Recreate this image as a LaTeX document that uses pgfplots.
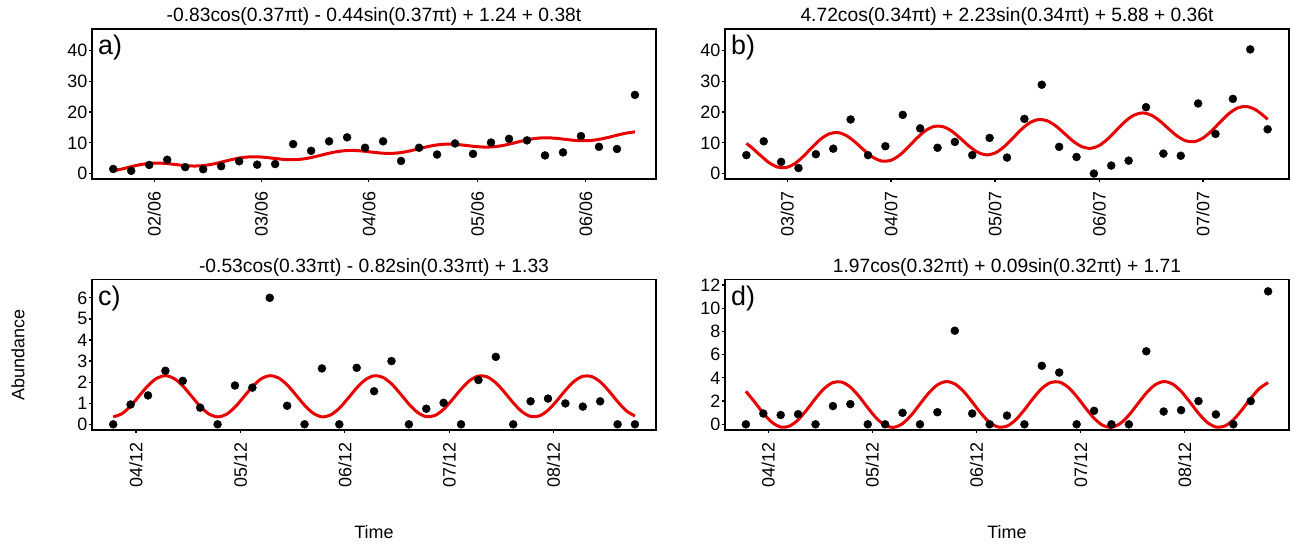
\documentclass[border=0pt]{standalone}
\usepackage{pgfplots}
\pgfplotsset{compat=1.18}
\usepackage{fontspec}
\setmainfont{Liberation Sans}
\definecolor{fitred}{RGB}{232,0,0}
\tikzset{plab/.style={anchor=north west, inner sep=0pt, xshift=6bp, yshift=-6bp, font=\fontsize{27}{29}\selectfont}}
\begin{document}
\begin{tikzpicture}
\useasboundingbox (0,0) rectangle (1296bp,544bp);
\pgfplotsset{
  panel/.style={
    scale only axis, width=564bp, height=150.5bp, anchor=south west,
    axis line style={line width=1.6bp},
    tick align=outside, xtick pos=bottom, ytick pos=left,
    major tick length=3bp,
    every tick/.style={black, line width=1.2bp},
    tick label style={font=\fontsize{18}{20}\selectfont},
    /pgf/number format/assume math mode=true,
    yticklabel style={inner xsep=1.5bp},
    xticklabel style={rotate=90, anchor=east, inner xsep=9bp},
    every axis title/.style={at={(0.5,1)}, anchor=base, yshift=7bp, font=\fontsize{19.3}{21}\selectfont},
    every axis x label/.style={at={(axis description cs:0.5,-0.678)}, anchor=center, font=\fontsize{18}{20}\selectfont},
    every axis y label/.style={at={(axis description cs:-0.1312,0.5)}, rotate=90, anchor=center, font=\fontsize{18}{20}\selectfont},
  },
  dots/.style={only marks, mark=*, mark size=4bp, black},
  fit/.style={color=fitred, line width=3bp, smooth, no markers},
}
% ---------------- a)
\begin{axis}[panel, at={(92bp,364.7bp)},
  xmin=-0.18, xmax=31.17, ymin=-1.86, ymax=47.1,
  xtick={3.28,9.22,15.21,21.25,27.26}, xticklabels={02/06,03/06,04/06,05/06,06/06},
  ytick={0,10,20,30,40},
  title={-0.83cos(0.37πt) - 0.44sin(0.37πt) + 1.24 + 0.38t}]
\addplot[fit] coordinates {(1,0.887)(1.5,1.519)(2,2.247)(2.5,2.894)(3,3.310)(3.5,3.420)(4,3.251)(4.5,2.921)(5,2.600)(5.5,2.457)(6,2.600)(6.5,3.046)(7,3.709)(7.5,4.435)(8,5.048)(8.5,5.409)(9,5.461)(9.5,5.250)(10,4.908)(10.5,4.609)(11,4.514)(11.5,4.717)(12,5.213)(12.5,5.901)(13,6.619)(13.5,7.193)(14,7.496)(14.5,7.492)(15,7.245)(15.5,6.897)(16,6.626)(16.5,6.583)(17,6.844)(17.5,7.386)(18,8.094)(18.5,8.797)(19,9.327)(19.5,9.572)(20,9.515)(20.5,9.235)(21,8.889)(21.5,8.651)(22,8.662)(22.5,8.982)(23,9.566)(23.5,10.287)(24,10.969)(24.5,11.452)(25,11.638)(25.5,11.529)(26,11.224)(26.5,10.884)(27,10.685)(27.5,10.753)(28,11.129)(28.5,11.751)(29,12.479)(29.5,13.134)(30,13.565)};
\addplot[dots] coordinates {(1,1.5)(2,0.9)(3,2.8)(4,4.5)(5,2.1)(6,1.4)(7,2.4)(8,4.0)(9,2.9)(10,3.1)(11,9.6)(12,7.4)(13,10.5)(14,11.8)(15,8.4)(16,10.5)(17,4.1)(18,8.4)(19,6.2)(20,9.8)(21,6.4)(22,10.1)(23,11.3)(24,10.8)(25,5.9)(26,6.9)(27,12.2)(28,8.7)(29,8.0)(30,25.6)};
\node[plab] at (rel axis cs:0,1) {a)};
\end{axis}
% ---------------- b)
\begin{axis}[panel, at={(725bp,364.7bp)},
  xmin=-0.23, xmax=32.23, ymin=-1.86, ymax=47.1,
  xtick={3.35,9.32,15.31,21.31,27.28}, xticklabels={03/07,04/07,05/07,06/07,07/07},
  ytick={0,10,20,30,40},
  title={4.72cos(0.34πt) + 2.23sin(0.34πt) + 5.88 + 0.36t}]
\addplot[fit] coordinates {(1.0,9.80)(1.3,8.501)(1.8,5.954)(2.3,3.587)(2.8,2.110)(3.3,1.983)(3.8,3.292)(4.3,5.724)(4.8,8.650)(5.3,11.307)(5.8,13.002)(6.3,13.316)(6.8,12.212)(7.3,10.044)(7.8,7.470)(8.3,5.255)(8.8,4.066)(9.3,4.285)(9.8,5.901)(10.3,8.513)(10.8,11.445)(11.3,13.930)(11.8,15.326)(12.3,15.294)(12.8,13.895)(13.3,11.565)(13.8,9.006)(14.3,6.981)(14.8,6.102)(15.3,6.666)(15.8,8.565)(16.3,11.320)(16.8,14.215)(17.3,16.493)(17.8,17.569)(18.3,17.195)(18.8,15.524)(19.3,13.072)(19.8,10.573)(20.3,8.771)(20.8,8.220)(21.3,9.123)(21.8,11.278)(22.3,14.136)(22.8,16.950)(23.3,18.987)(23.8,19.730)(24.3,19.022)(24.8,17.110)(25.3,14.577)(25.8,12.179)(26.3,10.633)(26.8,10.420)(27.3,11.650)(27.8,14.031)(28.3,16.949)(28.8,19.642)(29.3,21.409)(29.8,21.809)(30.3,20.781)(30.8,18.661)(31.0,17.64)};
\addplot[dots] coordinates {(1,6.0)(2,10.5)(3,3.8)(4,1.8)(5,6.3)(6,8.1)(7,17.6)(8,6.0)(9,8.9)(10,19.1)(11,14.7)(12,8.4)(13,10.3)(14,6.0)(15,11.6)(16,5.2)(17,17.8)(18,28.9)(19,8.7)(20,5.4)(21,0.0)(22,2.6)(23,4.2)(24,21.6)(25,6.5)(26,5.8)(27,22.8)(28,12.9)(29,24.3)(30,40.4)(31,14.4)};
\node[plab] at (rel axis cs:0,1) {b)};
\end{axis}
% ---------------- c)
\begin{axis}[panel, at={(92bp,114bp)},
  xmin=-0.22, xmax=32.21, ymin=-0.27, ymax=6.87,
  xtick={2.31,8.31,14.32,20.32,26.32}, xticklabels={04/12,05/12,06/12,07/12,08/12},
  ytick={0,1,2,3,4,5,6},
  xlabel={Time}, ylabel={Abundance},
  title={-0.53cos(0.33πt) - 0.82sin(0.33πt) + 1.33}]
\addplot[fit] coordinates {(1,0.354)(1.5,0.502)(2,0.867)(2.5,1.354)(3,1.834)(3.5,2.182)(4,2.306)(4.5,2.174)(5,1.820)(5.5,1.337)(6,0.852)(6.5,0.493)(7,0.354)(7.5,0.471)(8,0.814)(8.5,1.292)(9,1.781)(9.5,2.151)(10,2.305)(10.5,2.203)(11,1.872)(11.5,1.398)(12,0.907)(12.5,0.527)(13,0.357)(13.5,0.444)(14,0.763)(14.5,1.231)(15,1.725)(15.5,2.116)(16,2.300)(16.5,2.229)(17,1.922)(17.5,1.459)(18,0.963)(18.5,0.563)(19,0.364)(19.5,0.420)(20,0.714)(20.5,1.170)(21,1.668)(21.5,2.078)(22,2.291)(22.5,2.251)(23,1.969)(23.5,1.520)(24,1.020)(24.5,0.602)(25,0.375)(25.5,0.399)(26,0.667)(26.5,1.110)(27,1.610)(27.5,2.037)(28,2.278)(28.5,2.270)(29,2.015)(29.5,1.580)(30,1.079)(30.5,0.644)(31,0.390)};
\addplot[dots] coordinates {(1,0)(2,0.94)(3,1.37)(4,2.54)(5,2.06)(6,0.79)(7,0)(8,1.84)(9,1.74)(10,6.0)(11,0.88)(12,0)(13,2.65)(14,0)(15,2.68)(16,1.57)(17,3.0)(18,0)(19,0.74)(20,1.02)(21,0)(22,2.1)(23,3.2)(24,0)(25,1.09)(26,1.22)(27,0.99)(28,0.84)(29,1.09)(30,0)(31,0)};
\node[plab] at (rel axis cs:0,1) {c)};
\end{axis}
% ---------------- d)
\begin{axis}[panel, at={(725bp,114bp)},
  xmin=-0.2, xmax=32.2, ymin=-0.49, ymax=12.47,
  xtick={2.28,8.25,14.25,20.24,26.21}, xticklabels={04/12,05/12,06/12,07/12,08/12},
  ytick={0,2,4,6,8,10,12},
  xlabel={Time},
  title={1.97cos(0.32πt) + 0.09sin(0.32πt) + 1.71}]
\addplot[fit] coordinates {(1,2.842)(1.5,1.924)(2,0.953)(2.5,0.169)(3,-0.233)(3.5,-0.155)(4,0.384)(4.5,1.252)(5,2.233)(5.5,3.084)(6,3.596)(6.5,3.640)(7,3.208)(7.5,2.404)(8,1.429)(8.5,0.524)(9,-0.088)(9.5,-0.256)(10,0.063)(10.5,0.790)(11,1.744)(11.5,2.689)(12,3.393)(12.5,3.680)(13,3.480)(13.5,2.842)(14,1.924)(14.5,0.953)(15,0.169)(15.5,-0.233)(16,-0.155)(16.5,0.384)(17,1.252)(17.5,2.233)(18,3.084)(18.5,3.596)(19,3.640)(19.5,3.208)(20,2.404)(20.5,1.429)(21,0.524)(21.5,-0.088)(22,-0.256)(22.5,0.063)(23,0.790)(23.5,1.744)(24,2.689)(24.5,3.393)(25,3.680)(25.5,3.480)(26,2.842)(26.5,1.924)(27,0.953)(27.5,0.169)(28,-0.233)(28.5,-0.155)(29,0.384)(29.5,1.252)(30,2.233)(30.5,3.084)(31,3.596)};
\addplot[dots] coordinates {(1,0)(2,0.93)(3,0.8)(4,0.87)(5,0)(6,1.57)(7,1.74)(8,0)(9,0)(10,0.99)(11,0)(12,1.04)(13,8.06)(14,0.93)(15,0)(16,0.75)(17,0)(18,5.04)(19,4.46)(20,0)(21,1.16)(22,0)(23,0)(24,6.29)(25,1.1)(26,1.22)(27,2.0)(28,0.85)(29,0)(30,2.0)(31,11.45)};
\node[plab] at (rel axis cs:0,1) {d)};
\end{axis}
\end{tikzpicture}
\end{document}
